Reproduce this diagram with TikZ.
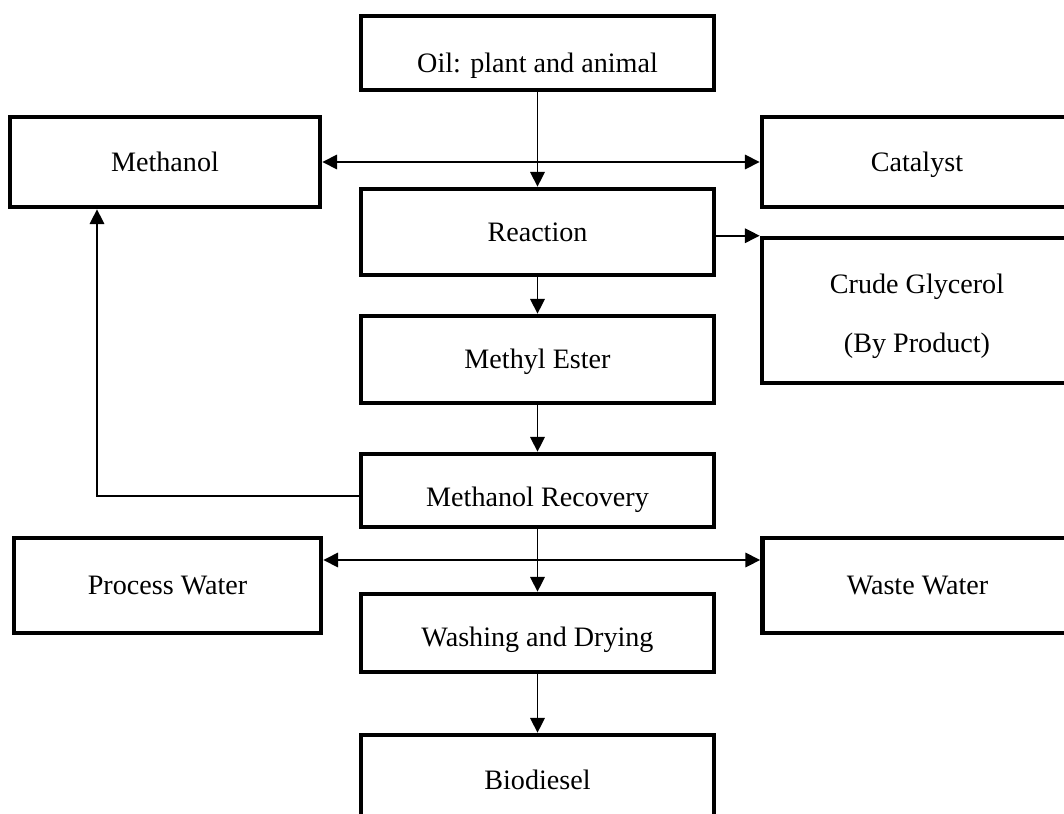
\documentclass[tikz,border=0pt]{standalone}
\usepackage{fontspec}
\setmainfont{Liberation Serif}
\usetikzlibrary{arrows.meta}

\begin{document}
\begin{tikzpicture}[x=0.025cm, y=-0.025cm,
    box/.style={draw=black, line width=3.2pt, fill=white, inner sep=0pt,
                text height=0.47cm, text depth=0pt,
                align=center, font=\fontsize{20}{24}\selectfont},
    midbox/.style={box, minimum width=8.825cm},
    sidebox/.style={box, minimum width=7.75cm, minimum height=2.25cm},
    arr/.style={line width=1.4pt, -{Triangle[length=0.37cm, width=0.36cm]}},
    darr/.style={line width=1.4pt, {Triangle[length=0.37cm, width=0.36cm]}-{Triangle[length=0.37cm, width=0.36cm]}}]
  \clip (0,0) rectangle (1064,814);
  \fill[white] (0,0) rectangle (1064,814);
  % main column
  \node[midbox, minimum height=1.85cm, text height=0.97cm] (oil) at (537.5,53) {Oil: plant and animal};
  \node[midbox, minimum height=2.15cm] (reaction) at (537.5,232) {Reaction};
  \node[midbox, minimum height=2.175cm] (ester) at (537.5,359.5) {Methyl Ester};
  \node[midbox, minimum height=1.825cm, text height=0.82cm] (recovery) at (537.5,490.5) {Methanol Recovery};
  \node[midbox, minimum height=1.95cm, text height=0.67cm] (washing) at (537.5,633) {Washing and Drying};
  \node[midbox, minimum height=2.25cm] (biodiesel) at (537.5,780) {Biodiesel};
  % side boxes
  \node[sidebox] (methanol) at (165,162) {Methanol};
  \node[sidebox] (catalyst) at (917,162) {Catalyst};
  \node[sidebox, minimum height=3.625cm, text height=2.1cm] (glycerol) at (917,310.5) {Crude Glycerol\\[18pt](By Product)};
  \node[sidebox, minimum width=7.675cm, minimum height=2.375cm] (process) at (167.5,585.5) {Process Water};
  \node[sidebox, minimum height=2.375cm] (waste) at (917.5,585.5) {Waste Water};
  % helper points
  \coordinate (feed) at (97,496);
  \coordinate (water) at (537.5,560);
  % connectors
  \draw[darr] (methanol.east) -- (catalyst.west);
  \draw[arr] (oil.south) -- (reaction.north);
  \draw[arr] (reaction.east |- glycerol.north west) -- (glycerol.north west);
  \draw[arr] (reaction.south) -- (ester.north);
  \draw[arr] (ester.south) -- (recovery.north);
  \draw[arr] (recovery.west |- feed) -- (feed) -- (feed |- methanol.south);
  \draw[darr] (process.east |- water) -- (waste.west |- water);
  \draw[arr] (recovery.south) -- (washing.north);
  \draw[arr] (washing.south) -- (biodiesel.north);
\end{tikzpicture}
\end{document}
